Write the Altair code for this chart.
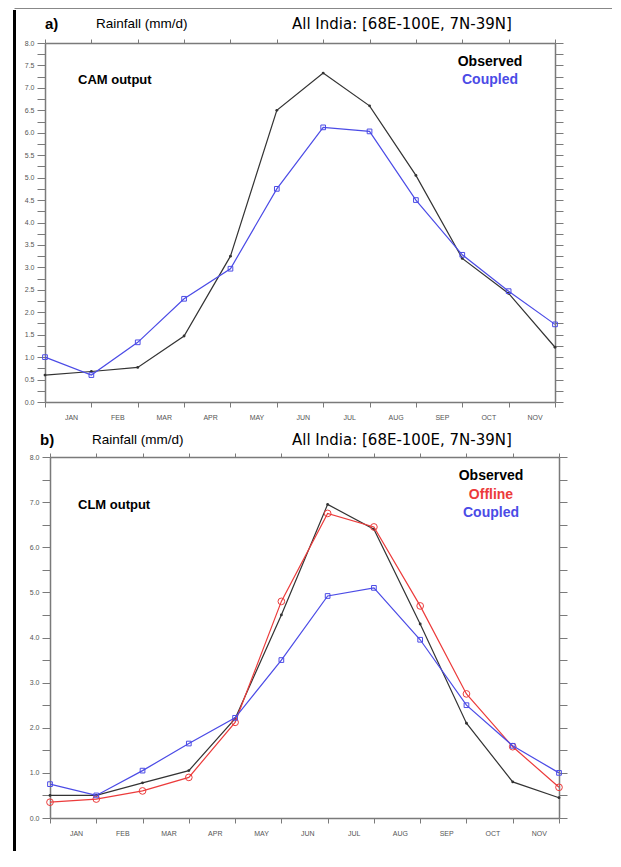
import altair as alt
import pandas as pd

# ---------------- data ----------------
months = ["JAN", "FEB", "MAR", "APR", "MAY", "JUN", "JUL", "AUG", "SEP", "OCT", "NOV"]
idx = list(range(12))

a_observed = [0.60, 0.68, 0.77, 1.47, 3.25, 6.50, 7.33, 6.60, 5.05, 3.20, 2.42, 1.22]
a_coupled = [1.00, 0.60, 1.33, 2.30, 2.97, 4.75, 6.12, 6.03, 4.50, 3.28, 2.47, 1.73]

b_observed = [0.50, 0.50, 0.78, 1.05, 2.20, 4.50, 6.95, 6.40, 4.30, 2.10, 0.80, 0.45]
b_offline = [0.35, 0.42, 0.60, 0.90, 2.12, 4.80, 6.75, 6.45, 4.70, 2.75, 1.58, 0.68]
b_coupled = [0.75, 0.50, 1.05, 1.65, 2.22, 3.50, 4.92, 5.10, 3.95, 2.50, 1.60, 1.00]

# ---------------- styling ----------------
FONT = "Liberation Sans"
TFONT = "DejaVu Sans"
AXC = "#7a7a7a"
OBS_C = "#333333"
CPL_C = "#4b4be6"
OFF_C = "#ec3b3b"

month_list = "[" + ",".join("'%s'" % m for m in months) + "]"
xlabel_expr = "datum.value < %d ? %s[datum.value] : ''" % (len(months), month_list)

dummy = pd.DataFrame({"d": [0]})


def series_layers(vals, color, shape, size, filled, xs, ys):
    df = pd.DataFrame({"i": idx, "v": vals})
    base = alt.Chart(df).encode(
        x=alt.X("i:Q", scale=xs, axis=None),
        y=alt.Y("v:Q", scale=ys, axis=None),
    )
    line = base.mark_line(color=color, strokeWidth=1.2)
    pts = base.mark_point(shape=shape, size=size, filled=filled, color=color,
                          strokeWidth=1, opacity=1)
    return [line, pts]


def text(t, x, y, size, color="black", bold=False, align="left", font=FONT):
    return alt.Chart(dummy).mark_text(
        text=t, font=font, fontSize=size, fontWeight="bold" if bold else "normal",
        color=color, align=align, baseline="middle",
    ).encode(x=alt.value(x), y=alt.value(y))


def make_panel(series, ytick_step, ylabel_step, right_step, width, height, texts, extra=None):
    xs = alt.Scale(domain=[0, 11], nice=False, zero=False)
    ys = alt.Scale(domain=[0, 8], nice=False)
    nt = int(round(8 / ytick_step))
    yticks = [k * ytick_step for k in range(nt + 1)]
    nr = int(round(8 / right_step))
    rticks = [k * right_step for k in range(nr + 1)]
    r = ylabel_step
    ylabel_expr = ("abs(datum.value/%g - round(datum.value/%g)) < 0.01 ? format(datum.value, '.1f') : ''"
                   % (r, r))
    df0 = pd.DataFrame({"i": idx, "v": series[0][0]})
    axes_main = alt.Chart(df0).mark_point(opacity=0).encode(
        x=alt.X("i:Q", scale=xs, axis=alt.Axis(
            orient="bottom", values=idx, labelExpr=xlabel_expr, labelOffset=26,
            tickSize=5, labelPadding=6, title=None, labelFlush=False, labelOverlap=False)),
        y=alt.Y("v:Q", scale=ys, axis=alt.Axis(
            orient="left", values=yticks, labelExpr=ylabel_expr, tickSize=8,
            labelPadding=3, title=None, labelFlush=False, labelOverlap=False)),
    )
    axes_other = alt.Chart(df0).mark_point(opacity=0).encode(
        x=alt.X("i:Q", scale=xs, axis=alt.Axis(
            orient="top", values=idx, labels=False, tickSize=4, title=None)),
        y=alt.Y("v:Q", scale=ys, axis=alt.Axis(
            orient="right", values=rticks, labels=False, tickSize=8, title=None)),
    )
    layers = [axes_main, axes_other]
    for vals, color, shape, size, filled in series:
        layers += series_layers(vals, color, shape, size, filled, xs, ys)
    layers += texts
    if extra:
        layers += extra
    return alt.layer(*layers).resolve_axis(x="independent", y="independent").properties(
        width=width, height=height)


# ---------------- panel a ----------------
texts_a = [
    text("a)", 0, -19, 15, bold=True),
    text("Rainfall (mm/d)", 51, -19, 13.5),
    text("All India: [68E-100E, 7N-39N]", 247, -19, 15, font=TFONT),
    text("CAM output", 33, 37, 13, bold=True),
    text("Observed", 445, 19, 14, bold=True, align="center"),
    text("Coupled", 445, 37, 14, color=CPL_C, bold=True, align="center"),
]
frame = [
    alt.Chart(dummy).mark_rule(color="black", strokeWidth=3).encode(
        x=alt.value(-30.5), y=alt.value(-33), y2=alt.value(808)),
    alt.Chart(dummy).mark_rule(color="#888888", strokeWidth=1).encode(
        x=alt.value(-30.5), x2=alt.value(567), y=alt.value(-34.5)),
]
panel_a = make_panel(
    [(a_observed, OBS_C, "circle", 8, True), (a_coupled, CPL_C, "square", 22, False)],
    0.25, 0.5, 0.25, 510, 359, texts_a, frame)

# ---------------- panel b ----------------
texts_b = [
    text("b)", -10, -17, 15, bold=True),
    text("Rainfall (mm/d)", 42, -17, 13.5),
    text("All India: [68E-100E, 7N-39N]", 242, -17, 15, font=TFONT),
    text("CLM output", 28, 48, 13, bold=True),
    text("Observed", 441, 19, 14, bold=True, align="center"),
    text("Offline", 441, 38, 14, color=OFF_C, bold=True, align="center"),
    text("Coupled", 441, 56, 14, color=CPL_C, bold=True, align="center"),
]
panel_b = make_panel(
    [(b_observed, OBS_C, "circle", 8, True), (b_offline, OFF_C, "circle", 45, False),
     (b_coupled, CPL_C, "square", 22, False)],
    0.5, 1.0, 0.5, 509, 361, texts_b)

spacer = alt.Chart(dummy).mark_point(opacity=0).encode(
    x=alt.value(0), y=alt.value(0)).properties(width=5, height=361)

bottom = alt.hconcat(spacer, panel_b, spacing=0, bounds="flush")

chart = alt.vconcat(panel_a, bottom, spacing=55, bounds="flush").properties(
    padding={"left": 5, "top": 0, "right": 0, "bottom": 0},
    background="white",
).configure_view(stroke=None).configure_axis(
    domainColor=AXC, tickColor=AXC, domainWidth=1.5, tickWidth=1,
    labelColor="#555555", labelFont=FONT, labelFontSize=7, grid=False,
)

chart.save("out.html", embed_options={"renderer": "svg", "actions": False})
